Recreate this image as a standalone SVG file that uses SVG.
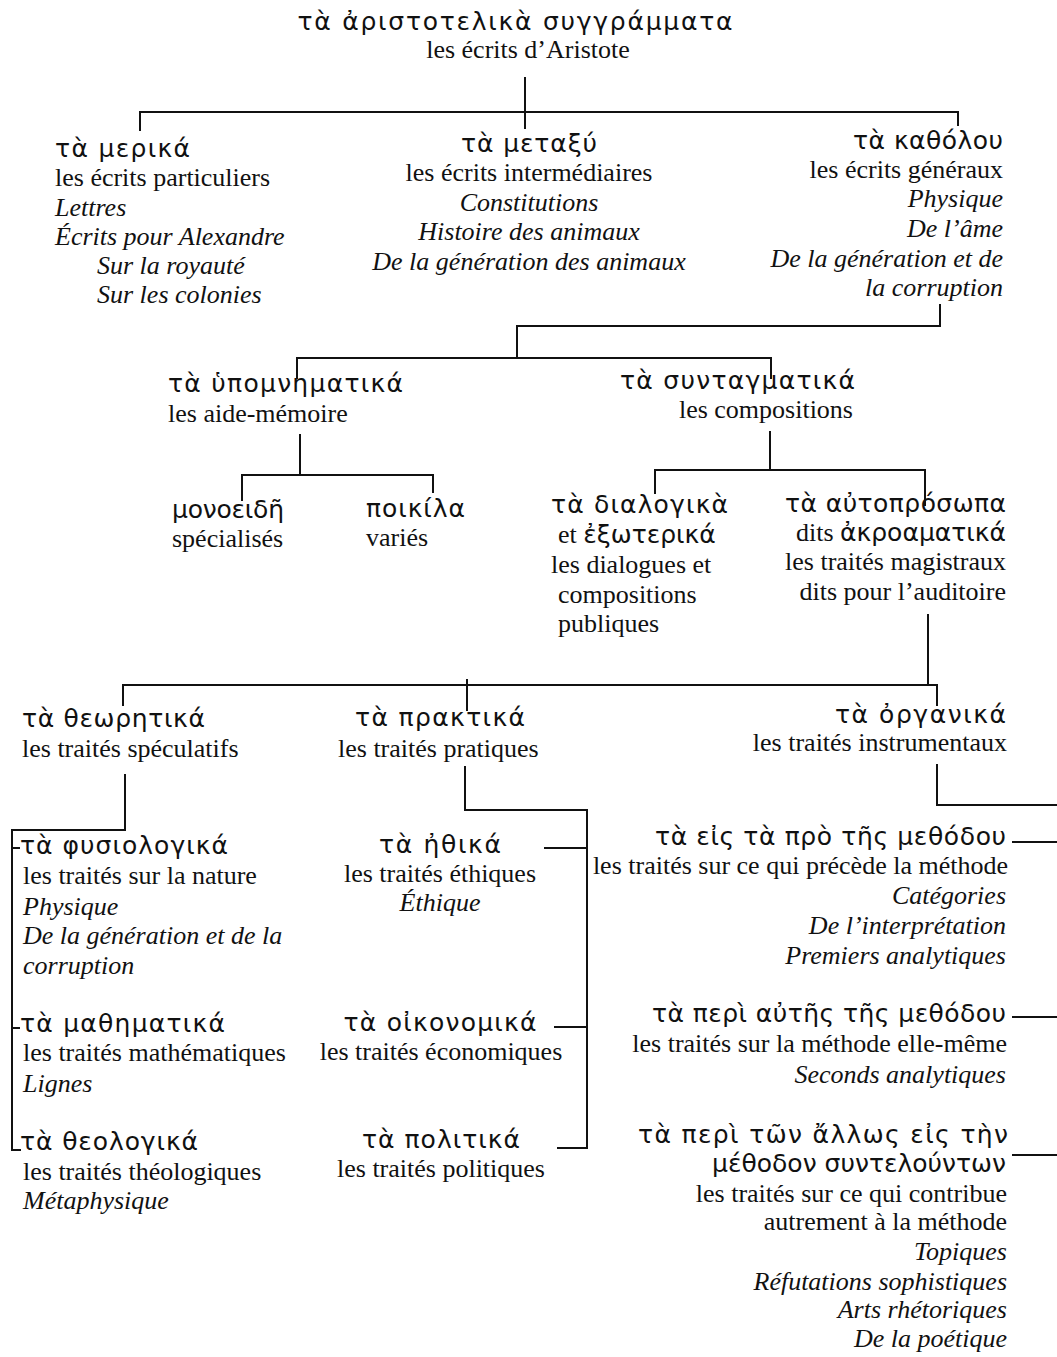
<svg xmlns="http://www.w3.org/2000/svg" width="1057" height="1357" viewBox="0 0 1057 1357">
<style>
  text { fill: #111; }
  .g { font-family: "DejaVu Sans", "Noto Sans", sans-serif; font-size: 25px; }
  .f { font-family: "Liberation Serif", "Times New Roman", serif; font-size: 26px; }
  .i { font-family: "Liberation Serif", "Times New Roman", serif; font-size: 26px; font-style: italic; }
  .m { text-anchor: middle; }
  .e { text-anchor: end; }
  .c { fill: none; stroke: #111; stroke-width: 2; stroke-linecap: square; }
</style>
<rect width="1057" height="1357" fill="#fff"/>

<g id="connectors" class="c">
  <path d="M525,78 V128 M140,130 V112 H958 V125"/>
  <path d="M940,305 V326 H517 V358 M297,378 V358 H771 V378"/>
  <path d="M300,435 V475 M242,500 V475 H433 V492"/>
  <path d="M770,432 V470 M655,493 V470 H925 V505"/>
  <path d="M928,615 V685 M123,705 V685 H937 V705 M467,680 V710"/>
  <path d="M125,775 V830 H12 V1150 H20 M12,848 H19 M12,1028 H19"/>
  <path d="M465,767 V810 H587 V1148 H558 M545,848 H587 M555,1027 H587"/>
  <path d="M937,765 V805 H1057 M1013,842 H1057 M1013,1017 H1057 M1013,1155 H1057"/>
</g>

<g id="root">
  <text class="g m" x="515" y="30" textLength="435" lengthAdjust="spacing">τὰ ἀριστοτελικὰ συγγράμματα</text>
  <text class="f m" x="528" y="58">les écrits d’Aristote</text>
</g>

<g id="merika">
  <text class="g" x="55" y="157" textLength="135" lengthAdjust="spacing">τὰ μερικά</text>
  <text class="f" x="55" y="186">les écrits particuliers</text>
  <text class="i" x="55" y="216">Lettres</text>
  <text class="i" x="55" y="245">Écrits pour Alexandre</text>
  <text class="i" x="97" y="274">Sur la royauté</text>
  <text class="i" x="97" y="303">Sur les colonies</text>
</g>

<g id="metaxu">
  <text class="g m" x="529" y="152" textLength="136" lengthAdjust="spacing">τὰ μεταξύ</text>
  <text class="f m" x="529" y="181">les écrits intermédiaires</text>
  <text class="i m" x="529" y="211">Constitutions</text>
  <text class="i m" x="529" y="240">Histoire des animaux</text>
  <text class="i m" x="529" y="270">De la génération des animaux</text>
</g>

<g id="katholou">
  <text class="g e" x="1003" y="149" textLength="150" lengthAdjust="spacing">τὰ καθόλου</text>
  <text class="f e" x="1003" y="178">les écrits généraux</text>
  <text class="i e" x="1003" y="207">Physique</text>
  <text class="i e" x="1003" y="237">De l’âme</text>
  <text class="i e" x="1003" y="267">De la génération et de</text>
  <text class="i e" x="1003" y="296">la corruption</text>
</g>

<g id="hypomnematika">
  <text class="g" x="168" y="392" textLength="235" lengthAdjust="spacing">τὰ ὑπομνηματικά</text>
  <text class="f" x="168" y="422">les aide-mémoire</text>
</g>

<g id="syntagmatika">
  <text class="g e" x="855" y="389" textLength="235" lengthAdjust="spacing">τὰ συνταγματικά</text>
  <text class="f e" x="853" y="418">les compositions</text>
</g>

<g id="monoeide">
  <text class="g" x="172" y="518" textLength="112" lengthAdjust="spacing">μονοειδῆ</text>
  <text class="f" x="172" y="547">spécialisés</text>
</g>

<g id="poikila">
  <text class="g" x="366" y="517" textLength="99" lengthAdjust="spacing">ποικίλα</text>
  <text class="f" x="366" y="546">variés</text>
</g>

<g id="dialogika">
  <text class="g" x="551" y="513" textLength="177" lengthAdjust="spacing">τὰ διαλογικὰ</text>
  <text class="f" x="558" y="543">et <tspan class="g">ἐξωτερικά</tspan></text>
  <text class="f" x="551" y="573">les dialogues et</text>
  <text class="f" x="558" y="603">compositions</text>
  <text class="f" x="558" y="632">publiques</text>
</g>

<g id="autoprosopa">
  <text class="g e" x="1006" y="512" textLength="221" lengthAdjust="spacing">τὰ αὐτοπρόσωπα</text>
  <text class="f e" x="1006" y="541">dits <tspan class="g">ἀκροαματικά</tspan></text>
  <text class="f e" x="1006" y="570">les traités magistraux</text>
  <text class="f e" x="1006" y="600">dits pour l’auditoire</text>
</g>

<g id="theoretika">
  <text class="g" x="22" y="727" textLength="183" lengthAdjust="spacing">τὰ θεωρητικά</text>
  <text class="f" x="22" y="757">les traités spéculatifs</text>
</g>

<g id="praktika">
  <text class="g" x="355" y="726" textLength="170" lengthAdjust="spacing">τὰ πρακτικά</text>
  <text class="f" x="338" y="757">les traités pratiques</text>
</g>

<g id="organika">
  <text class="g e" x="1006" y="723" textLength="171" lengthAdjust="spacing">τὰ ὀργανικά</text>
  <text class="f e" x="1007" y="751">les traités instrumentaux</text>
</g>

<g id="physiologika">
  <text class="g" x="20" y="854" textLength="208" lengthAdjust="spacing">τὰ φυσιολογικά</text>
  <text class="f" x="23" y="884">les traités sur la nature</text>
  <text class="i" x="23" y="915">Physique</text>
  <text class="i" x="23" y="944">De la génération et de la</text>
  <text class="i" x="23" y="974">corruption</text>
</g>

<g id="mathematika">
  <text class="g" x="20" y="1032" textLength="205" lengthAdjust="spacing">τὰ μαθηματικά</text>
  <text class="f" x="23" y="1061">les traités mathématiques</text>
  <text class="i" x="23" y="1092">Lignes</text>
</g>

<g id="theologika">
  <text class="g" x="20" y="1150" textLength="178" lengthAdjust="spacing">τὰ θεολογικά</text>
  <text class="f" x="23" y="1180">les traités théologiques</text>
  <text class="i" x="23" y="1209">Métaphysique</text>
</g>

<g id="ethika">
  <text class="g m" x="440" y="853" textLength="122" lengthAdjust="spacing">τὰ ἠθικά</text>
  <text class="f m" x="440" y="882">les traités éthiques</text>
  <text class="i m" x="440" y="911">Éthique</text>
</g>

<g id="oikonomika">
  <text class="g m" x="440" y="1031" textLength="193" lengthAdjust="spacing">τὰ οἰκονομικά</text>
  <text class="f m" x="441" y="1060">les traités économiques</text>
</g>

<g id="politika">
  <text class="g m" x="441" y="1148" textLength="158" lengthAdjust="spacing">τὰ πολιτικά</text>
  <text class="f m" x="441" y="1177">les traités politiques</text>
</g>

<g id="pro-methodou">
  <text class="g e" x="1006" y="845" textLength="351" lengthAdjust="spacing">τὰ εἰς τὰ πρὸ τῆς μεθόδου</text>
  <text class="f e" x="1008" y="874">les traités sur ce qui précède la méthode</text>
  <text class="i e" x="1006" y="904">Catégories</text>
  <text class="i e" x="1006" y="934">De l’interprétation</text>
  <text class="i e" x="1006" y="964">Premiers analytiques</text>
</g>

<g id="peri-autes">
  <text class="g e" x="1006" y="1022" textLength="354" lengthAdjust="spacing">τὰ περὶ αὐτῆς τῆς μεθόδου</text>
  <text class="f e" x="1007" y="1052">les traités sur la méthode elle-même</text>
  <text class="i e" x="1006" y="1083">Seconds analytiques</text>
</g>

<g id="peri-allos">
  <text class="g e" x="1008" y="1143" textLength="370" lengthAdjust="spacing">τὰ περὶ τῶν ἄλλως εἰς τὴν</text>
  <text class="g e" x="1006" y="1172" textLength="294" lengthAdjust="spacing">μέθοδον συντελούντων</text>
  <text class="f e" x="1007" y="1202">les traités sur ce qui contribue</text>
  <text class="f e" x="1007" y="1230">autrement à la méthode</text>
  <text class="i e" x="1007" y="1260">Topiques</text>
  <text class="i e" x="1007" y="1290">Réfutations sophistiques</text>
  <text class="i e" x="1007" y="1318">Arts rhétoriques</text>
  <text class="i e" x="1007" y="1347">De la poétique</text>
</g>
</svg>
